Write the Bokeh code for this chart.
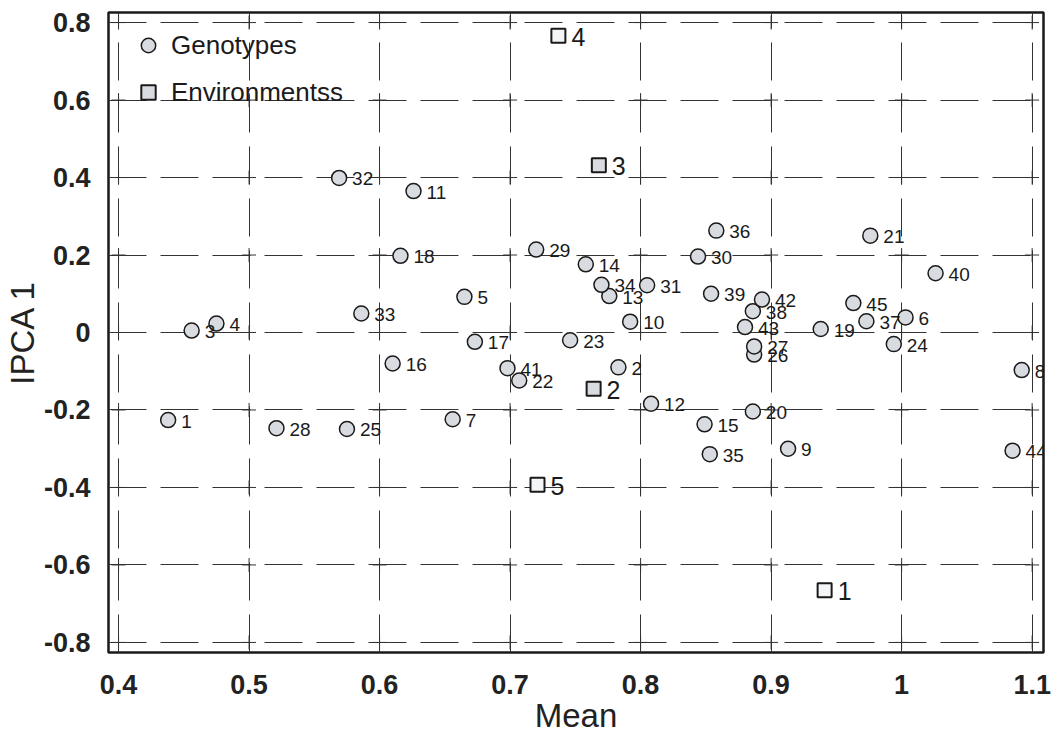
import numpy as np
from bokeh.plotting import figure
from bokeh.models import ColumnDataSource, FixedTicker, Range1d
from bokeh.core.properties import value
from bokeh.embed import file_html
from bokeh.resources import INLINE

# Genotypes
gen_id = [str(i) for i in range(1, 46)]
gen_mean = [0.438, 0.783, 0.456, 0.475, 0.665, 1.003, 0.656, 1.092, 0.913, 0.792,
            0.626, 0.808, 0.776, 0.758, 0.849, 0.610, 0.673, 0.616, 0.938, 0.886,
            0.976, 0.707, 0.746, 0.994, 0.575, 0.887, 0.887, 0.521, 0.720, 0.844,
            0.805, 0.569, 0.586, 0.770, 0.853, 0.858, 0.973, 0.886, 0.854, 1.026,
            0.698, 0.893, 0.880, 1.085, 0.963]
gen_ipca = [-0.226, -0.090, 0.005, 0.023, 0.092, 0.039, -0.224, -0.097, -0.300, 0.028,
            0.365, -0.184, 0.094, 0.176, -0.237, -0.080, -0.024, 0.198, 0.009, -0.204,
            0.250, -0.124, -0.020, -0.030, -0.249, -0.057, -0.036, -0.247, 0.214, 0.196,
            0.122, 0.399, 0.049, 0.123, -0.314, 0.263, 0.029, 0.055, 0.100, 0.153,
            -0.092, 0.085, 0.014, -0.305, 0.076]

# Environments
env_id = ["1", "2", "3", "4", "5"]
env_mean = [0.941, 0.764, 0.768, 0.737, 0.721]
env_ipca = [-0.665, -0.145, 0.432, 0.766, -0.393]
env_shaded = [False, True, True, False, False]

x_ticks = [0.4, 0.5, 0.6, 0.7, 0.8, 0.9, 1.0, 1.1]
y_ticks = [-0.8, -0.6, -0.4, -0.2, 0.0, 0.2, 0.4, 0.6, 0.8]
x_tick_labels = {0.4: "0.4", 0.5: "0.5", 0.6: "0.6", 0.7: "0.7", 0.8: "0.8",
                 0.9: "0.9", 1.0: "1", 1.1: "1.1"}
y_tick_labels = {-0.8: "-0.8", -0.6: "-0.6", -0.4: "-0.4", -0.2: "-0.2", 0.0: "0",
                 0.2: "0.2", 0.4: "0.4", 0.6: "0.6", 0.8: "0.8"}

FONT = "Liberation Sans"

p = figure(width=1062, height=740, output_backend="svg", toolbar_location=None,
           x_range=Range1d(0.3923, 1.1087), y_range=Range1d(-0.826, 0.826),
           min_border_left=107, min_border_right=19, min_border_top=12, min_border_bottom=88)
p.background_fill_color = "white"
p.border_fill_color = "white"
p.outline_line_color = "#1a1a1a"
p.outline_line_width = 2.5

p.xaxis.ticker = FixedTicker(ticks=x_ticks)
p.yaxis.ticker = FixedTicker(ticks=y_ticks)
p.xaxis.major_label_overrides = x_tick_labels
p.yaxis.major_label_overrides = y_tick_labels
for ax in (p.xaxis, p.yaxis):
    ax.axis_line_color = None
    ax.major_tick_line_color = None
    ax.minor_tick_line_color = None
    ax.major_label_text_font = FONT
    ax.major_label_text_font_style = "bold"
    ax.major_label_text_font_size = "27px"
    ax.major_label_text_color = "#222222"
    ax.axis_label_text_font = FONT
    ax.axis_label_text_font_style = "normal"
    ax.axis_label_text_font_size = "33px"
    ax.axis_label_text_color = "#222222"
p.xaxis.axis_label = "Mean"
p.yaxis.axis_label = "IPCA 1"
p.xaxis.major_label_standoff = 16
p.yaxis.major_label_standoff = 12
p.xaxis.axis_label_standoff = 0
p.yaxis.axis_label_standoff = 0

p.grid.grid_line_color = "#333333"
p.grid.grid_line_width = 1
p.grid.grid_line_dash = "38 14"
p.xgrid.ticker = FixedTicker(ticks=x_ticks)
p.ygrid.ticker = FixedTicker(ticks=y_ticks)

# small crosses at grid intersections
gx, gy = np.meshgrid(x_ticks, y_ticks)
p.scatter(gx.ravel(), gy.ravel(), marker="cross", size=14, line_color="#333333", line_width=1)

gsrc = ColumnDataSource(dict(x=gen_mean, y=gen_ipca, lab=gen_id))
p.scatter("x", "y", source=gsrc, marker="circle", size=15, fill_color="#d8dbe0",
          line_color="#1a1a1a", line_width=1.5, legend_label="Genotypes")
p.text("x", "y", text="lab", source=gsrc, x_offset=13, y_offset=1,
       text_font=value(FONT), text_font_size="19px", text_baseline="middle",
       text_color="#1a1a1a")

e_sh = [i for i, s in enumerate(env_shaded) if s]
e_wh = [i for i, s in enumerate(env_shaded) if not s]
esrc_sh = ColumnDataSource(dict(x=[env_mean[i] for i in e_sh], y=[env_ipca[i] for i in e_sh]))
esrc_wh = ColumnDataSource(dict(x=[env_mean[i] for i in e_wh], y=[env_ipca[i] for i in e_wh]))
p.scatter("x", "y", source=esrc_sh, marker="square", size=14, fill_color="#d8dbe0",
          line_color="#1a1a1a", line_width=2, legend_label="Environmentss")
p.scatter("x", "y", source=esrc_wh, marker="square", size=14, fill_color="#f4f5f7",
          line_color="#1a1a1a", line_width=2)
esrc = ColumnDataSource(dict(x=env_mean, y=env_ipca, lab=env_id))
p.text("x", "y", text="lab", source=esrc, x_offset=13, y_offset=1,
       text_font=value(FONT), text_font_size="25px", text_baseline="middle",
       text_color="#1a1a1a")

lg = p.legend[0]
lg.location = (22, 542)
lg.border_line_color = None
lg.background_fill_alpha = 0
lg.margin = 0
lg.padding = 0
lg.glyph_width = 36
lg.glyph_height = 36
lg.label_height = 36
lg.spacing = 11
lg.label_standoff = 5
lg.label_text_font = FONT
lg.label_text_font_size = "26px"
lg.label_text_color = "#1a1a1a"

open("out.html", "w").write(file_html(p, INLINE))
